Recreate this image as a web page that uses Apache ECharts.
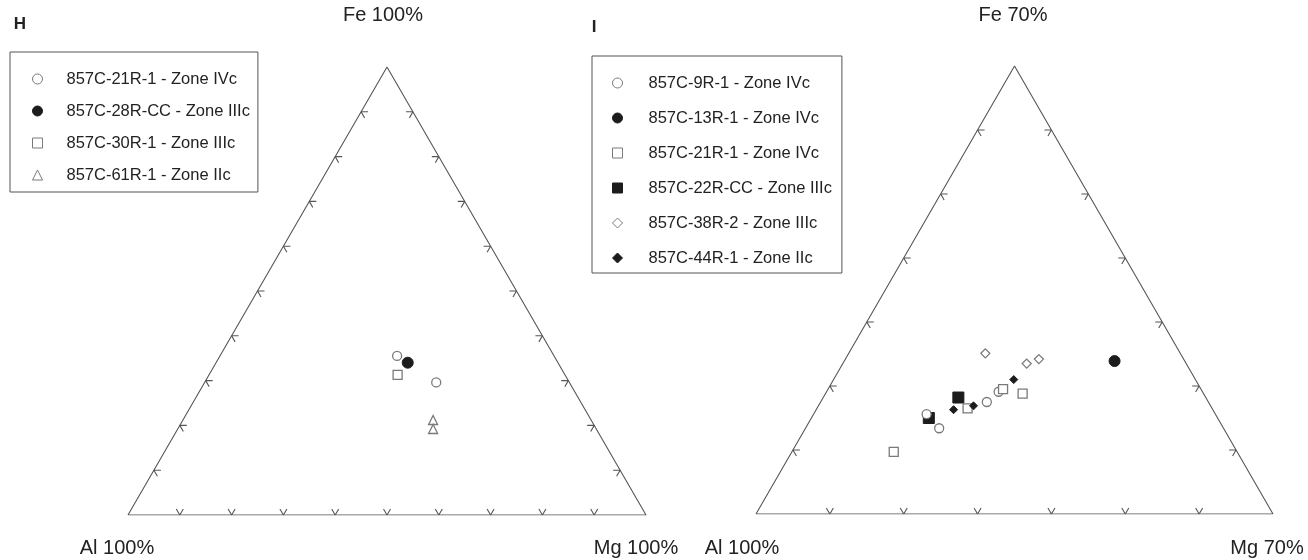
<!DOCTYPE html>
<html><head><meta charset="utf-8">
<script src="https://cdn.jsdelivr.net/npm/echarts@6/dist/echarts.min.js"></script>
<style>html,body{margin:0;padding:0;background:#fff}#c{width:1308px;height:560px}</style>
</head><body><div id="c"></div>
<script>
// ---- Data: compositions [Fe %, Mg %, Al %] ----
// Panel H (full ternary, 100 %)
const H_21R1  = [[35.5, 34.2, 30.3], [29.6, 44.7, 25.7]];
const H_28RCC = [[34.0, 37.0, 29.0]];
const H_30R1  = [[31.3, 36.4, 32.3]];
const H_61R1  = [[21.2, 48.3, 30.5], [19.2, 49.3, 31.5]];
// Panel I (partial ternary, Fe and Mg up to 70 %)
const I_9R1   = [[19.1, 23.3, 57.6], [17.5, 22.5, 60.0], [15.6, 15.3, 69.1], [13.4, 18.1, 68.5]];
const I_13R1  = [[23.9, 36.6, 39.5]];
const I_21R1  = [[19.5, 23.7, 56.8], [18.8, 26.7, 54.5], [16.5, 20.4, 63.1], [9.7, 13.8, 76.5]];
const I_22RCC = [[18.2, 18.3, 63.5], [15.0, 15.9, 69.1]];
const I_38R2  = [[25.1, 18.5, 56.4], [23.5, 24.9, 51.6], [24.2, 26.2, 49.6]];
const I_44R1  = [[21.0, 24.4, 54.6], [16.9, 21.0, 62.1], [16.3, 18.6, 65.1]];
// Scales and tick values
const H_SCALE = 100, I_SCALE = 70;
const H_TICKS = [10, 20, 30, 40, 50, 60, 70, 80, 90];
const I_TICKS = [10, 20, 30, 40, 50, 60];
// Names
const H_NAMES = ['857C-21R-1 - Zone IVc', '857C-28R-CC - Zone IIIc', '857C-30R-1 - Zone IIIc', '857C-61R-1 - Zone IIc'];
const I_NAMES = ['857C-9R-1 - Zone IVc', '857C-13R-1 - Zone IVc', '857C-21R-1 - Zone IVc', '857C-22R-CC - Zone IIIc', '857C-38R-2 - Zone IIIc', '857C-44R-1 - Zone IIc'];

const SQ = Math.sqrt(3) / 2;
function toXY(fe, mg, S) { const f = fe / S, m = mg / S; return [m + f / 2, f * SQ]; }
function conv(arr, S) { return arr.map(d => toXY(d[0], d[1], S)); }

function frame(S) { // triangle edges
  return [toXY(0, 0, S), toXY(0, S, S), toXY(S, 0, S), toXY(0, 0, S)];
}
function chevrons(S, ticks, L) {
  const out = [];
  const arm = (p, deg) => [p[0] + L * Math.cos(deg * Math.PI / 180), p[1] + L * Math.sin(deg * Math.PI / 180)];
  ticks.forEach(t => {
    let p = toXY(0, t, S);          // bottom edge
    out.push(arm(p, 60), p, arm(p, 120), [null, null]);
    p = toXY(t, 0, S);              // left edge
    out.push(arm(p, 0), p, arm(p, -60), [null, null]);
    p = toXY(t, S - t, S);          // right edge
    out.push(arm(p, 180), p, arm(p, 240), [null, null]);
  });
  return out;
}

const OPEN = '#7a7a7a', FILL = '#1c1c1c', LINE = '#555', TXT = '#222';
const FONT = '"Liberation Sans", Arial, sans-serif';

function sc(name, data, gi, symbol, size, filled) {
  return {
    type: 'scatter', name: name, xAxisIndex: gi, yAxisIndex: gi, data: data,
    symbol: symbol, symbolSize: size, animation: false,
    itemStyle: filled ? { color: FILL, borderColor: FILL, borderWidth: 1, opacity: 1 }
                      : { color: '#fff', borderColor: OPEN, borderWidth: 1.3, opacity: 1 },
    emphasis: { disabled: true }
  };
}
function ln(data, gi) {
  return { type: 'line', xAxisIndex: gi, yAxisIndex: gi, data: data, symbol: 'none', silent: true,
    connectNulls: false, animation: false, lineStyle: { color: LINE, width: 1.1 }, z: 1 };
}

const L = 7 / 518;
const series = [
  ln(frame(H_SCALE), 0), ln(chevrons(H_SCALE, H_TICKS, L), 0),
  ln(frame(I_SCALE), 1), ln(chevrons(I_SCALE, I_TICKS, L), 1),
  sc('H|' + H_NAMES[0], conv(H_21R1, H_SCALE), 0, 'circle', 9, false),
  sc('H|' + H_NAMES[2], conv(H_30R1, H_SCALE), 0, 'rect', 9, false),
  sc('H|' + H_NAMES[3], conv(H_61R1, H_SCALE), 0, 'triangle', 9, false),
  sc('H|' + H_NAMES[1], conv(H_28RCC, H_SCALE), 0, 'circle', 11, true),
  sc('I|' + I_NAMES[3], conv(I_22RCC, I_SCALE), 1, 'rect', 11, true),
  sc('I|' + I_NAMES[0], conv(I_9R1, I_SCALE), 1, 'circle', 9, false),
  sc('I|' + I_NAMES[2], conv(I_21R1, I_SCALE), 1, 'rect', 9, false),
  sc('I|' + I_NAMES[5], conv(I_44R1, I_SCALE), 1, 'diamond', 8, true),
  sc('I|' + I_NAMES[4], conv(I_38R2, I_SCALE), 1, 'diamond', 9, false),
  sc('I|' + I_NAMES[1], conv(I_13R1, I_SCALE), 1, 'circle', 11, true)
];

const legendBase = {
  orient: 'vertical', selectedMode: false, itemWidth: 10, itemHeight: 10,
  borderColor: LINE, borderWidth: 1, backgroundColor: '#fff',
  itemStyle: { borderWidth: 1 },
  formatter: n => n.slice(2)
};
const legText = padLeft => ({ fontSize: 16.5, color: TXT, fontFamily: FONT, lineHeight: 20, padding: [0, 0, 0, padLeft] });

const txt = (x, y, s, size, bold) => ({
  type: 'text', x: x, y: y,
  style: { text: s, fill: TXT, font: (bold ? 'bold ' : '') + size + 'px ' + FONT, textAlign: 'center', textVerticalAlign: 'middle' }
});

const option = {
  backgroundColor: '#fff',
  animation: false,
  grid: [
    { left: 128, top: 67, width: 518, height: 448 },
    { left: 756, top: 66, width: 517, height: 448 }
  ],
  xAxis: [
    { gridIndex: 0, type: 'value', min: 0, max: 1, show: false },
    { gridIndex: 1, type: 'value', min: 0, max: 1, show: false }
  ],
  yAxis: [
    { gridIndex: 0, type: 'value', min: 0, max: SQ, show: false },
    { gridIndex: 1, type: 'value', min: 0, max: SQ, show: false }
  ],
  legend: [
    Object.assign({}, legendBase, { left: 10, top: 52, itemGap: 12, padding: [17, 8, 7, 22],
      textStyle: legText(19), data: H_NAMES.map(n => 'H|' + n) }),
    Object.assign({}, legendBase, { left: 592, top: 56, itemGap: 15, padding: [17, 10, 5, 20],
      textStyle: legText(21), data: I_NAMES.map(n => 'I|' + n) })
  ],
  graphic: [
    txt(20, 24, 'H', 17, true),
    txt(594, 27, 'I', 17, true),
    txt(383, 15, 'Fe 100%', 20),
    txt(117, 548, 'Al 100%', 20),
    txt(636, 548, 'Mg 100%', 20),
    txt(1013, 15, 'Fe 70%', 20),
    txt(742, 548, 'Al 100%', 20),
    txt(1267, 548, 'Mg 70%', 20)
  ],
  series: series
};

const chart = echarts.init(document.getElementById('c'), null, { renderer: 'canvas' });
chart.setOption(option);
</script>
</body></html>
